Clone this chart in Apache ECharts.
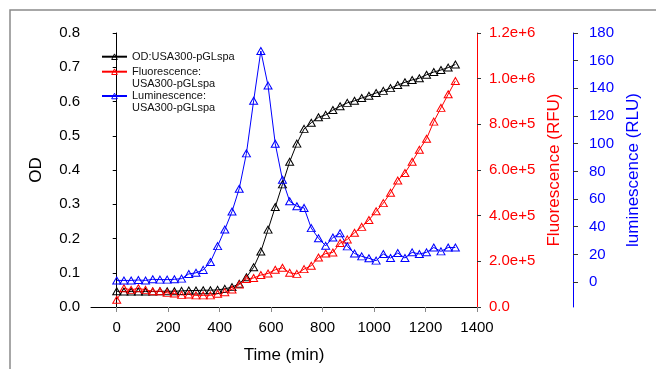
<!DOCTYPE html>
<html>
<head>
<meta charset="utf-8">
<script src="https://cdn.jsdelivr.net/npm/echarts@6/dist/echarts.min.js"></script>
<style>html,body{margin:0;padding:0;background:#fff}#c{width:656px;height:369px}</style>
</head>
<body>
<div id="c"></div>
<script>
const timeMin = [0,28,56,84,112,140,168,196,224,252,280,308,336,364,392,420,448,476,504,532,560,588,616,644,672,700,728,756,784,812,840,868,896,924,952,980,1008,1036,1064,1092,1120,1148,1176,1204,1232,1260,1288,1316];
const odValues = [0.046,0.045,0.045,0.045,0.045,0.045,0.046,0.046,0.046,0.047,0.048,0.048,0.049,0.049,0.050,0.053,0.058,0.068,0.087,0.116,0.162,0.226,0.292,0.358,0.424,0.477,0.520,0.538,0.554,0.561,0.575,0.586,0.596,0.602,0.610,0.617,0.625,0.631,0.639,0.648,0.656,0.663,0.668,0.678,0.686,0.692,0.699,0.708];
const fluorValues = [31600,82000,75000,82000,75000,69000,69000,62000,59000,53000,55000,51000,51000,51000,58000,65000,77000,98000,123000,127000,140000,147000,163000,172000,150000,145000,166000,181000,217000,234000,239000,280000,296000,325000,351000,381000,419000,455000,500000,554000,587000,636000,689000,737000,812000,872000,932000,990000];
const lumValues = [1.2,1.2,1.2,1.5,1.2,2.0,1.8,1.8,2.0,2.5,5.9,6.7,8.8,14.5,26,38,51,67.5,93,131,167,142,100,74,58.4,54.8,53.6,39,31.7,26.2,32.2,35.3,25.8,20.7,18.6,17.2,15.5,20.3,17.4,21,17.4,21.5,20.3,21.5,25,22.2,25,25];
const xTicks = [0,200,400,600,800,1000,1200,1400];
const lumTicks = [0,20,40,60,80,100,120,140,160,180];
const seriesNames = ['OD:USA300-pGLspa','Fluorescence:\nUSA300-pGLspa','Luminescence:\nUSA300-pGLspa'];

const FONT = '"Liberation Sans", Arial, sans-serif';
const toPairs = (vals) => timeMin.map((t, i) => [t, vals[i]]);

function mkSeries(name, vals, color, yIdx) {
  return {
    name: name, type: 'line', yAxisIndex: yIdx, data: toPairs(vals),
    symbol: 'triangle', symbolSize: [8, 7],
    lineStyle: { color: color, width: 1 },
    itemStyle: { color: 'rgba(255,255,255,0)', borderColor: color, borderWidth: 1 },
    emphasis: { disabled: true }, animation: false
  };
}
function mkLegend(name, top, twoLine) {
  return {
    data: [name], left: 101, top: top, padding: 0, itemWidth: 25, itemHeight: 7, itemGap: 7,
    itemStyle: { color: 'rgba(255,255,255,0)', borderWidth: 1 },
    formatter: twoLine ? (n => ' \n' + n) : (n => n),
    textStyle: { fontFamily: FONT, fontSize: 11, color: '#111', lineHeight: 12 },
    selectedMode: false
  };
}

const chart = echarts.init(document.getElementById('c'), null, { renderer: 'canvas' });
chart.setOption({
  animation: false,
  backgroundColor: '#fff',
  grid: { left: 91, right: 179, top: 33, bottom: 59, containLabel: false },
  graphic: [{ type: 'rect', shape: { x: 10, y: 10, width: 700, height: 400 }, style: { fill: 'none', stroke: '#8a8a8a', lineWidth: 1.5 }, silent: true }],
  legend: [
    mkLegend(seriesNames[0], 50.7, false),
    mkLegend(seriesNames[1], 53.7, true),
    mkLegend(seriesNames[2], 78, true)
  ],
  xAxis: {
    type: 'value', min: -100, max: 1400,
    name: 'Time (min)', nameLocation: 'middle', nameGap: 40,
    nameTextStyle: { fontFamily: FONT, fontSize: 17, color: '#000' },
    axisLine: { lineStyle: { color: '#000', width: 1 } },
    axisTick: { show: true, inside: false, length: 5, lineStyle: { color: '#888' }, customValues: xTicks },
    axisLabel: { fontFamily: FONT, fontSize: 15, color: '#000', margin: 13, customValues: xTicks, formatter: v => String(v) },
    splitLine: { show: false }
  },
  yAxis: [
    {
      type: 'value', min: 0, max: 0.8, interval: 0.1, position: 'left',
      name: 'OD', nameLocation: 'middle', nameGap: 46, nameRotate: 90,
      nameTextStyle: { fontFamily: FONT, fontSize: 17, color: '#000' },
      axisLine: { show: true, lineStyle: { color: '#000', width: 1 } },
      axisTick: { show: true, inside: false, length: 4, lineStyle: { color: '#000' } },
      axisLabel: { fontFamily: FONT, fontSize: 15, color: '#000', margin: 11, formatter: v => v.toFixed(1) },
      splitLine: { show: false }
    },
    {
      type: 'value', min: 0, max: 1200000, interval: 200000, position: 'right',
      name: 'Fluorescence (RFU)', nameLocation: 'middle', nameGap: 68, nameRotate: 90,
      nameTextStyle: { fontFamily: FONT, fontSize: 17, color: '#ff0000' },
      axisLine: { show: true, lineStyle: { color: '#ff0000', width: 1 } },
      axisTick: { show: true, inside: false, length: 4, lineStyle: { color: '#333' } },
      axisLabel: { fontFamily: FONT, fontSize: 15, color: '#ff0000', margin: 12,
        formatter: v => v === 0 ? '0.0' : v.toExponential(1) },
      splitLine: { show: false }
    },
    {
      type: 'value', min: -18, max: 180, position: 'right', offset: 96,
      name: 'luminescence (RLU)', nameLocation: 'middle', nameGap: 51, nameRotate: 90,
      nameTextStyle: { fontFamily: FONT, fontSize: 17, color: '#0000ff' },
      axisLine: { show: true, lineStyle: { color: '#0000ff', width: 1 } },
      axisTick: { show: true, inside: false, length: 5, lineStyle: { color: '#333' }, customValues: lumTicks },
      axisLabel: { fontFamily: FONT, fontSize: 15, color: '#0000ff', margin: 16, customValues: lumTicks },
      splitLine: { show: false }
    }
  ],
  series: [
    mkSeries(seriesNames[0], odValues, '#000000', 0),
    mkSeries(seriesNames[1], fluorValues, '#ff0000', 1),
    mkSeries(seriesNames[2], lumValues, '#0000ff', 2)
  ]
});
</script>
</body>
</html>
